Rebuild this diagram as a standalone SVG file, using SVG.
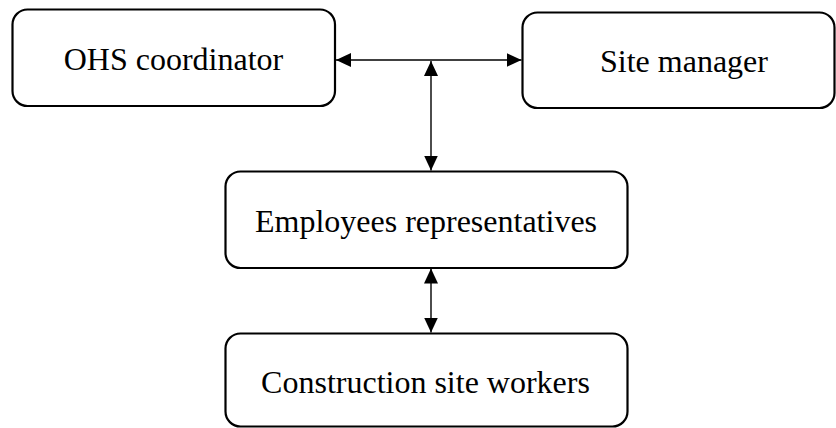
<svg xmlns="http://www.w3.org/2000/svg" width="836" height="428" viewBox="0 0 836 428">
<style>
.box{fill:#fff;stroke:#000;stroke-width:2.2}
.lbl{font-family:"Liberation Serif","Times New Roman",serif;font-size:32px;fill:#000;text-anchor:middle}
.conn{stroke:#000;stroke-width:1.4;fill:none}
</style>
<defs>
<marker id="ah" markerUnits="userSpaceOnUse" viewBox="0 0 15 14" refX="15" refY="7" markerWidth="15" markerHeight="14" orient="auto-start-reverse">
<path d="M0,0 L15,7 L0,14 Z" fill="#000"/>
</marker>
</defs>
<g id="ohs">
<rect class="box" x="12.5" y="9.5" width="322.5" height="96.5" rx="15"/>
<text class="lbl" x="173.5" y="70">OHS coordinator</text>
</g>
<g id="site-manager">
<rect class="box" x="522.5" y="12.5" width="312" height="95.5" rx="15"/>
<text class="lbl" x="684" y="72">Site manager</text>
</g>
<g id="employees">
<rect class="box" x="225.5" y="171.5" width="402" height="96.5" rx="15"/>
<text class="lbl" x="426" y="231.5">Employees representatives</text>
</g>
<g id="workers">
<rect class="box" x="225.5" y="333.5" width="402" height="93" rx="15"/>
<text class="lbl" x="425.5" y="392.5">Construction site workers</text>
</g>
<g id="connectors">
<line class="conn" x1="336" y1="60" x2="521.5" y2="60" marker-start="url(#ah)" marker-end="url(#ah)"/>
<line class="conn" x1="431" y1="61" x2="431" y2="170.5" marker-start="url(#ah)" marker-end="url(#ah)"/>
<line class="conn" x1="431" y1="268.5" x2="431" y2="332.5" marker-start="url(#ah)" marker-end="url(#ah)"/>
</g>
</svg>
